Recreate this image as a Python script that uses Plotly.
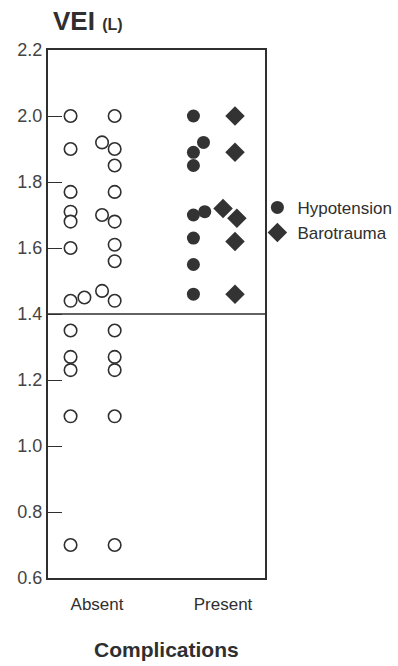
import plotly.graph_objects as go

# ---- data ----
categories = ["Absent", "Present"]
cat_pos = {"Absent": 1, "Present": 2}

# Absent group, left column
absent_a_vei = [2.00, 1.90, 1.77, 1.71, 1.68, 1.60, 1.44, 1.45, 1.35, 1.27, 1.23, 1.09, 0.70]
absent_a_jit = [-0.21, -0.21, -0.21, -0.21, -0.21, -0.21, -0.21, -0.10, -0.21, -0.21, -0.21, -0.21, -0.21]
# Absent group, right column
absent_b_vei = [2.00, 1.92, 1.90, 1.85, 1.77, 1.70, 1.68, 1.61, 1.56, 1.47, 1.44, 1.35, 1.27, 1.23, 1.09, 0.70]
absent_b_jit = [0.14, 0.04, 0.14, 0.14, 0.14, 0.04, 0.14, 0.14, 0.14, 0.04, 0.14, 0.14, 0.14, 0.14, 0.14, 0.14]
# Present group
hypo_vei = [2.00, 1.92, 1.89, 1.85, 1.71, 1.70, 1.63, 1.55, 1.46]
hypo_jit = [-0.235, -0.155, -0.235, -0.235, -0.145, -0.235, -0.235, -0.235, -0.235]
baro_vei = [2.00, 1.89, 1.72, 1.69, 1.62, 1.46]
baro_jit = [0.095, 0.095, 0.0, 0.11, 0.095, 0.095]

y_ticks = [0.6, 0.8, 1.0, 1.2, 1.4, 1.6, 1.8, 2.0, 2.2]
threshold = 1.4

INK = "#2f2f2f"
FONT = "Liberation Sans, Arial, sans-serif"

fig = go.Figure()

def xs(cat, jit):
    return [cat_pos[cat] + j for j in jit]

fig.add_trace(go.Scatter(
    x=xs("Absent", absent_a_jit), y=absent_a_vei, mode="markers", showlegend=False,
    marker=dict(symbol="circle", size=12.5, color="white", line=dict(color=INK, width=1.6))))
fig.add_trace(go.Scatter(
    x=xs("Absent", absent_b_jit), y=absent_b_vei, mode="markers", showlegend=False,
    marker=dict(symbol="circle", size=12.5, color="white", line=dict(color=INK, width=1.6))))
fig.add_trace(go.Scatter(
    x=xs("Present", hypo_jit), y=hypo_vei, mode="markers", name="Hypotension",
    marker=dict(symbol="circle", size=13, color="#333333", line=dict(color="#333333", width=0))))
fig.add_trace(go.Scatter(
    x=xs("Present", baro_jit), y=baro_vei, mode="markers", name="Barotrauma",
    marker=dict(symbol="diamond", size=15, color="#333333", line=dict(color="#333333", width=0))))

fig.add_shape(type="line", xref="x domain", yref="y", x0=0, x1=1, y0=threshold, y1=threshold,
              line=dict(color=INK, width=1.6))

fig.update_xaxes(
    range=[0.611, 2.333], tickvals=[cat_pos[c] for c in categories], ticktext=categories,
    ticks="", showgrid=False, zeroline=False, showline=True, mirror=True,
    linecolor=INK, linewidth=2.2, ticklabelstandoff=9,
    tickfont=dict(size=17, color=INK, family=FONT))
fig.update_yaxes(
    range=[0.6, 2.2], tickvals=y_ticks, ticktext=[f"{v:.1f}" for v in y_ticks],
    ticks="inside", ticklen=14, tickwidth=1.4, tickcolor=INK,
    showgrid=False, zeroline=False, showline=True, mirror=True,
    linecolor=INK, linewidth=2.2, tickfont=dict(size=18, color="#444444", family=FONT))

fig.add_annotation(xref="paper", yref="paper", x=0.015, y=1.0, xanchor="left", yanchor="bottom",
                   yshift=12, showarrow=False,
                   text="<b>VEI</b> <b><span style='font-size:16px'>(L)</span></b>",
                   font=dict(size=26, color=INK, family=FONT))
fig.add_annotation(xref="paper", yref="paper", x=0.545, y=0, xanchor="center", yanchor="top",
                   yshift=-58, showarrow=False, text="<b>Complications</b>",
                   font=dict(size=21, color=INK, family=FONT))

fig.update_layout(
    width=398, height=666,
    margin=dict(l=48, r=133, t=50, b=88, autoexpand=False),
    paper_bgcolor="white", plot_bgcolor="white",
    legend=dict(x=0.965, y=0.735, xanchor="left", yanchor="top", bgcolor="rgba(0,0,0,0)",
                font=dict(size=17, color=INK, family=FONT), itemwidth=30,
                tracegroupgap=0),
    font=dict(family=FONT),
)

fig.write_html("out.html")
